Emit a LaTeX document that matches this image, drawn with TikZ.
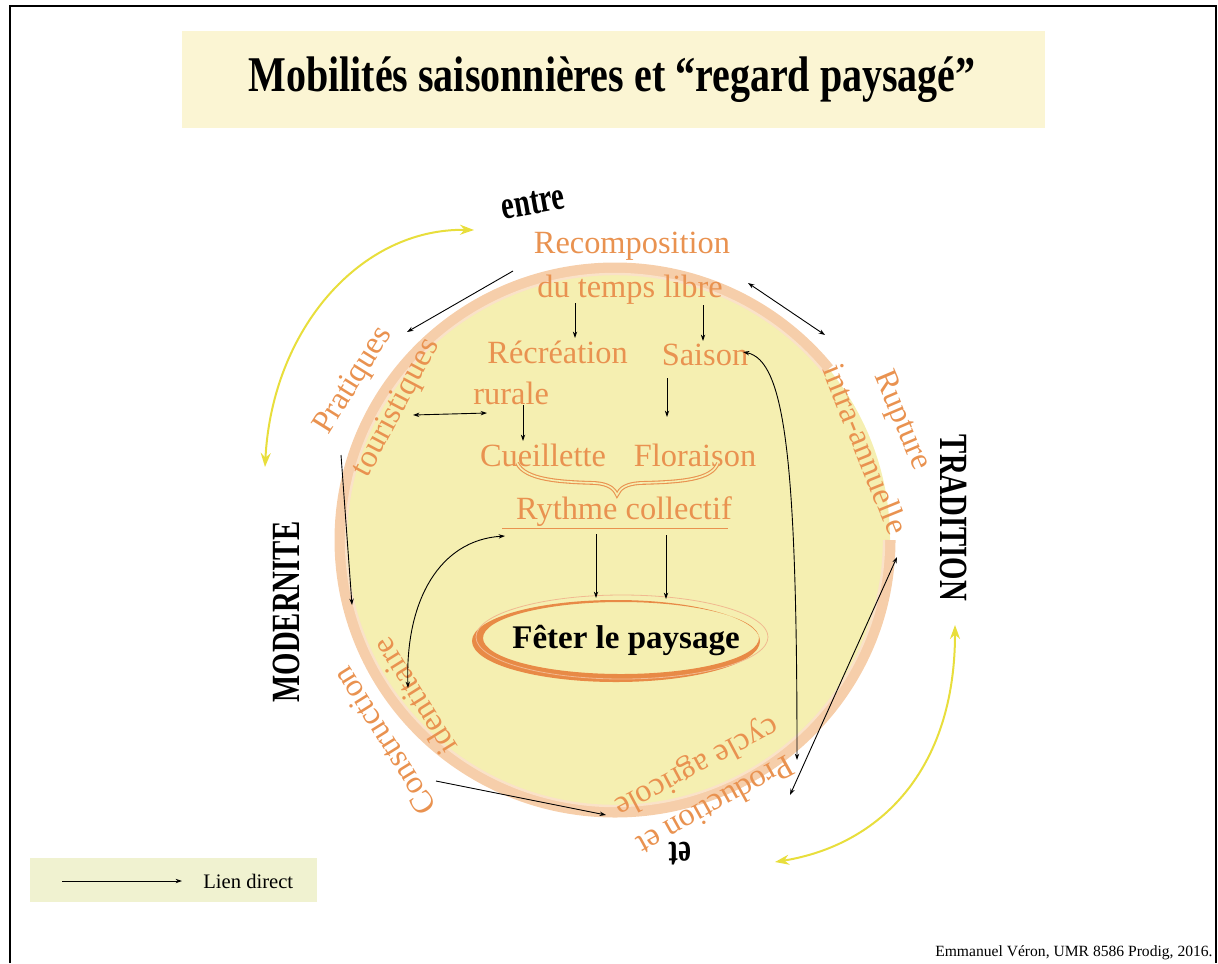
\documentclass[tikz,border=0pt]{standalone}
\usepackage{fontspec}
\setmainfont{Liberation Serif}
\usetikzlibrary{arrows.meta,positioning}

\definecolor{orangetxt}{RGB}{233,146,80}
\definecolor{titlefill}{RGB}{251,245,211}
\definecolor{discfill}{RGB}{245,239,177}
\definecolor{ringpeach}{RGB}{246,206,170}
\definecolor{ringlight}{RGB}{250,226,200}
\definecolor{yellowarrow}{RGB}{232,222,60}
\definecolor{legendfill}{RGB}{240,242,208}
\definecolor{brushorange}{RGB}{232,138,70}

\tikzset{
  lien/.style={line width=0.45pt, -{Stealth[length=3.2pt,width=2.2pt]}},
  lienbi/.style={line width=0.45pt, {Stealth[length=3.2pt,width=2.2pt]}-{Stealth[length=3.2pt,width=2.2pt]}},
  cyclearrow/.style={yellowarrow, line width=1pt, {Stealth[length=7pt,width=5pt]}-{Stealth[length=7pt,width=5pt]}},
  concept/.style={text=orangetxt, font=\fontsize{16.2}{18}\selectfont, inner sep=0pt},
  pole/.style={font=\fontsize{20}{22}\selectfont\bfseries, inner sep=0pt, xscale=0.72},
}

\begin{document}
\begin{tikzpicture}[x=0.5pt,y=-0.5pt]
    \useasboundingbox (0,0) rectangle (1218,963);

    % Frame
    \draw[line width=1.2pt] (10,963) -- (10,6) -- (1216,6) -- (1216,963);

    % Title
    \fill[titlefill] (182,31) rectangle (1045,128);
    \node[font=\fontsize{25}{28}\selectfont\bfseries, xscale=0.8] (titre) at (612,80) {Mobilités saisonnières et “regard paysagé”};

    % Disc and ring
    \fill[discfill] (615,540) ellipse [x radius=275, y radius=272];
    \draw[ringpeach, line width=5.5pt] (890,540) arc [start angle=0, end angle=321, x radius=275, y radius=272];
    \draw[ringlight, line width=1.2pt] (884,540) arc [start angle=0, end angle=321, x radius=269, y radius=266];

    % Inner concepts
    \node[concept] (recomp) at (632,246) {Recomposition};
    \node[concept] (tps) at (630,290) {du temps libre};
    \node[concept, anchor=west] (recre) at (487,352) {Récréation};
    \node[concept, anchor=west] (rurale) at (473,393) {rurale};
    \node[concept] (saison) at (705,355) {Saison};
    \node[concept] (cueil) at (543,455) {Cueillette};
    \node[concept] (flor) at (695,455) {Floraison};
    \node[concept] (rythme) at (624,512) {Rythme collectif};
    \draw[orangetxt, line width=0.5pt] (502,528) -- (728,528);
    \draw[orangetxt, double=discfill, double distance=0.8pt, line width=0.55pt]
        (517,463) .. controls (525,480) and (560,482) .. (595,483)
        .. controls (608,484) and (614,488) .. (617,495)
        .. controls (620,488) and (626,484) .. (640,483)
        .. controls (680,482) and (712,480) .. (718,463);

    % Central node
    \node[font=\fontsize{16.5}{18}\selectfont\bfseries, inner sep=0pt] (feter) at (626,640) {Fêter le paysage};
    \fill[brushorange, even odd rule] (616,641) ellipse [x radius=144, y radius=41]
        (621,638) ellipse [x radius=138, y radius=36];
    \draw[brushorange!60, line width=0.4pt] (622,637) ellipse [x radius=146, y radius=42];

    % Ring labels
    \node[concept, rotate=58] (prat) at (354,381) {Pratiques};
    \node[concept, rotate=62] (tour) at (397,408) {touristiques};
    \node[concept, rotate=-67] (rupt) at (901,421) {Rupture};
    \node[concept, rotate=-68] (intra) at (866,449) {intra-annuelle};
    \node[concept, rotate=122] (constr) at (384,741) {Construction};
    \node[concept, rotate=122] (ident) at (414,697) {identitaire};
    \node[concept, rotate=209] (prod) at (716,806) {Production et};
    \node[concept, rotate=208] (cycle) at (696,766) {cycle agricole};

    % Poles
    \node[rotate=10, pole] (entre) at (533,203) {entre};
    \node[rotate=90, pole] (modern) at (286,612) {MODERNITE};
    \node[rotate=-90, pole] (trad) at (954,518) {TRADITION};
    \node[rotate=180, pole] (et) at (680,854) {et};

    % Cycle arrows
    \draw[cyclearrow] (265,467) .. controls (272,330) and (360,228) .. (474,230);
    \draw[cyclearrow] (775,862) .. controls (880,845) and (955,770) .. (955,625);

    % Direct links
    \coordinate (recomp-out) at (513,271);
    \coordinate (prat-in) at (407,332);
    \coordinate (tps-a) at (575,303);
    \coordinate (recre-in) at (575,338);
    \coordinate (tps-b) at (703,305);
    \coordinate (saison-in) at (703,341);
    \coordinate (saison-out) at (667,378);
    \coordinate (flor-in) at (667,417);
    \coordinate (rurale-out) at (523,405);
    \coordinate (cueil-in) at (523,441);
    \coordinate (tour-r) at (413,415);
    \coordinate (rurale-l) at (487,413);
    \coordinate (libre-r) at (748,283);
    \coordinate (rupt-top) at (825,335);
    \coordinate (saison-r) at (743,352);
    \coordinate (cycle-top) at (797,760);
    \coordinate (tour-out) at (341,455);
    \coordinate (constr-in) at (352,605);
    \coordinate (ident-top) at (408,688);
    \coordinate (rythme-l) at (505,536);
    \coordinate (constr-out) at (436,781);
    \coordinate (prod-in) at (606,815);
    \coordinate (prod-r) at (790,795);
    \coordinate (intra-low) at (897,557);
    \coordinate (rythme-a) at (596,534);
    \coordinate (feter-a) at (596,598);
    \coordinate (rythme-b) at (666,535);
    \coordinate (feter-b) at (666,599);

    \draw[lien] (recomp-out) -- (prat-in);
    \draw[lien] (tps-a) -- (recre-in);
    \draw[lien] (tps-b) -- (saison-in);
    \draw[lien] (saison-out) -- (flor-in);
    \draw[lien] (rurale-out) -- (cueil-in);
    \draw[lienbi] (tour-r) -- (rurale-l);
    \draw[lienbi] (libre-r) -- (rupt-top);
    \draw[lienbi] (saison-r) .. controls (785,360) and (797,460) .. (cycle-top);
    \draw[lien] (tour-out) -- (constr-in);
    \draw[lienbi] (ident-top) .. controls (405,600) and (440,540) .. (rythme-l);
    \draw[lien] (constr-out) -- (prod-in);
    \draw[lienbi] (prod-r) -- (intra-low);
    \draw[lien] (rythme-a) -- (feter-a);
    \draw[lien] (rythme-b) -- (feter-b);

    % Legend
    \fill[legendfill] (30,858) rectangle (317,902);
    \coordinate (leg-a) at (62,881);
    \coordinate (leg-b) at (182,881);
    \draw[lien] (leg-a) -- (leg-b);
    \node[anchor=west, font=\fontsize{10.3}{12}\selectfont, inner sep=0pt] (legtxt) at (203,881) {Lien direct};

    % Credit
    \node[anchor=south east, font=\fontsize{7.8}{9}\selectfont, inner sep=0pt] (credit) at (1213,960) {Emmanuel Véron, UMR 8586 Prodig, 2016.};
\end{tikzpicture}
\end{document}
